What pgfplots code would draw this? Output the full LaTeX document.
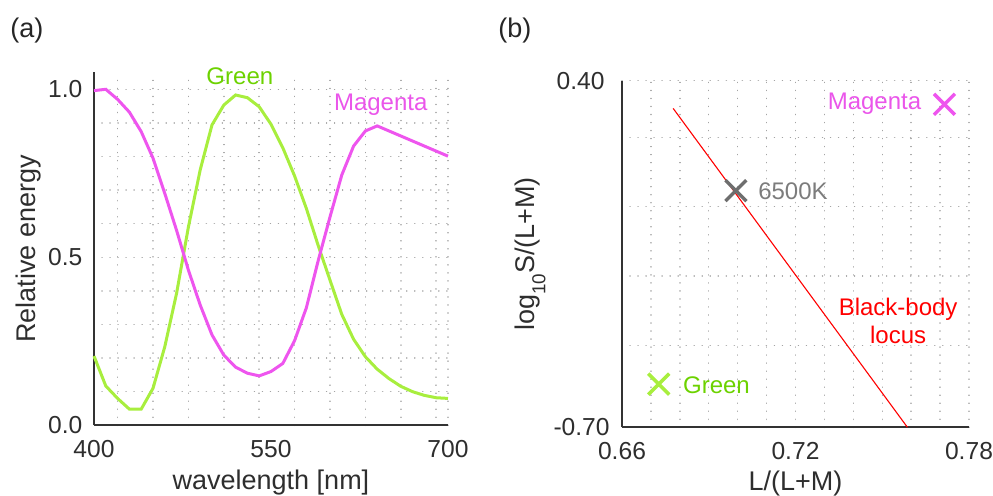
\documentclass[border=0pt]{standalone}
\usepackage{pgfplots}
\pgfplotsset{compat=1.18}
\usepackage{fontspec}
\setmainfont{Liberation Sans}

\definecolor{lineGreen}{HTML}{A8EE3E}
\definecolor{textGreen}{HTML}{6CD200}
\definecolor{lineMagenta}{HTML}{EE55EE}
\definecolor{textMagenta}{HTML}{EA55EA}
\definecolor{axisGray}{HTML}{333333}
\definecolor{markGray}{HTML}{6E6E6E}
\definecolor{textGray}{HTML}{7C7C7C}
\definecolor{gridGray}{HTML}{A4A4A4}

\pgfplotsset{
  panel/.style={
    scale only axis,
    anchor=south west,
    axis x line*=bottom, axis y line*=left,
    axis line style={axisGray, line width=0.9pt, -},
    major tick length=0pt, minor tick length=0pt,
    xmajorgrids=false, ymajorgrids=false,
    xminorgrids=true, yminorgrids=true,
    minor grid style={gridGray, line width=0.75pt, dash pattern=on 0.01pt off 4pt, line cap=round},
    tick label style={font=\fontsize{12.3}{14}\selectfont, text=black!82},
    xticklabel style={anchor=base, yshift=-16.2pt},
    label style={font=\fontsize{13.5}{16}\selectfont, text=black!82},
    clip=false,
  },
}

\begin{document}
\begin{tikzpicture}
\useasboundingbox (0,0) rectangle (496.5pt,248pt);

% panel labels
\node[anchor=west, inner sep=0pt, font=\fontsize{13.5}{16}\selectfont, text=black!85] at (5pt,232.8pt) {(a)};
\node[anchor=west, inner sep=0pt, font=\fontsize{13.5}{16}\selectfont, text=black!85] at (249pt,232.8pt) {(b)};

% (a) spectral energy of the two stimuli
\begin{axis}[panel,
  at={(47pt,35.35pt)}, width=177pt, height=176.4pt,
  xmin=400, xmax=700, ymin=0, ymax=1.05,
  xtick={400,550,700}, xticklabels={400,550,700},
  ytick={0,0.5,1}, yticklabels={0.0,0.5,1.0},
  minor xtick={420,450,480,510,540,570,600,630,660,690,700},
  minor ytick={0.1,0.2,0.3,0.4,0.5,0.6,0.7,0.8,0.9,1.0},
  yticklabel style={anchor=east, inner sep=0pt, xshift=-5.6pt},
  xlabel={wavelength [nm]},
  ylabel={Relative energy},
  xlabel style={at={(axis description cs:0.5,-0.183)}, anchor=base},
  ylabel style={at={(axis description cs:-0.186,0.5)}, anchor=center},
]
\addplot[lineGreen, line width=1.5pt] coordinates {
  (400,0.206) (410,0.117) (420,0.080) (430,0.048) (440,0.048)
  (450,0.110) (460,0.234) (470,0.393) (480,0.590) (490,0.760)
  (500,0.894) (510,0.953) (520,0.983) (530,0.975) (540,0.948)
  (550,0.896) (560,0.826) (570,0.742) (580,0.645) (590,0.535)
  (600,0.432) (610,0.330) (620,0.256) (630,0.204) (640,0.167)
  (650,0.139) (660,0.116) (670,0.100) (680,0.089) (690,0.082)
  (700,0.080)
};
\addplot[lineMagenta, line width=1.5pt] coordinates {
  (400,0.996) (410,1.000) (420,0.970) (430,0.932) (440,0.874)
  (450,0.795) (460,0.690) (470,0.580) (480,0.462) (490,0.358)
  (500,0.269) (510,0.209) (520,0.173) (530,0.155) (540,0.147)
  (550,0.160) (560,0.184) (570,0.252) (580,0.350) (590,0.490)
  (600,0.620) (610,0.745) (620,0.831) (630,0.876) (640,0.891)
  (650,0.876) (660,0.861) (670,0.846) (680,0.831) (690,0.816)
  (700,0.801)
};
\node[text=textGreen, font=\fontsize{12}{14}\selectfont, inner sep=0pt] at (axis cs:523.6,1.040) {Green};
\node[text=textMagenta, font=\fontsize{12}{14}\selectfont, inner sep=0pt] at (axis cs:643,0.953) {Magenta};
\end{axis}

% (b) chromaticity in the MacLeod-Boynton plane
\begin{axis}[panel,
  at={(311pt,34.35pt)}, width=173.5pt, height=173.3pt,
  xmin=0.66, xmax=0.78, ymin=-0.70, ymax=0.40,
  xtick={0.66,0.72,0.78}, xticklabels={0.66,0.72,0.78},
  ytick={-0.70,0.40}, yticklabels={-0.70,{0.40\hspace*{2.5pt}}},
  minor xtick={0.67,0.68,0.69,0.70,0.71,0.72,0.73,0.74,0.75,0.76,0.77,0.78},
  minor ytick={-0.44,-0.22,0,0.22,0.40},
  yticklabel style={anchor=east, inner sep=0pt, xshift=-6pt},
  xlabel={L/(L+M)},
  ylabel={log\raisebox{-5.6pt}{\fontsize{9.4}{11}\selectfont 10}S/(L+M)},
  xlabel style={at={(axis description cs:0.5,-0.181)}, anchor=base},
  ylabel style={at={(axis description cs:-0.265,0.5)}, anchor=center},
]
\addplot[red, line width=0.55pt] coordinates {
  (0.6777,0.312) (0.7182,-0.194) (0.7587,-0.700)
};
\addplot[markGray, only marks, mark=x, mark size=7.4pt, line width=1.7pt] coordinates {(0.6994,0.051)};
\addplot[lineMagenta, only marks, mark=x, mark size=7.4pt, line width=1.7pt] coordinates {(0.7715,0.325)};
\addplot[lineGreen, only marks, mark=x, mark size=7.4pt, line width=1.7pt] coordinates {(0.6727,-0.563)};
\node[anchor=east, text=textMagenta, font=\fontsize{12}{14}\selectfont, inner sep=0pt] at (axis cs:0.7636,0.328) {Magenta};
\node[anchor=west, text=textGray, font=\fontsize{12}{14}\selectfont, inner sep=0pt] at (axis cs:0.707,0.050) {6500K};
\node[anchor=west, text=textGreen, font=\fontsize{12}{14}\selectfont, inner sep=0pt] at (axis cs:0.681,-0.566) {Green};
\node[align=center, text=red, font=\fontsize{12}{14.2}\selectfont, inner sep=0pt] at (axis cs:0.7555,-0.362) {Black-body\\locus};
\end{axis}
\end{tikzpicture}
\end{document}
